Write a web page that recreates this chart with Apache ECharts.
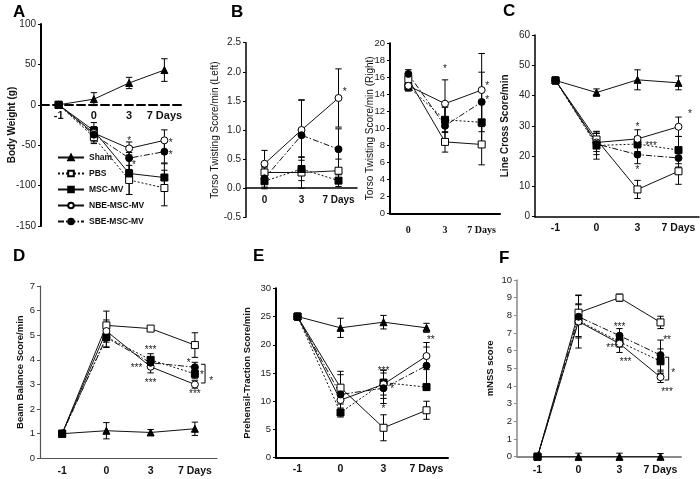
<!DOCTYPE html>
<html><head><meta charset="utf-8">
<script src="https://cdn.jsdelivr.net/npm/echarts@6/dist/echarts.min.js"></script>
<style>html,body{margin:0;padding:0;background:#fff}#c{width:700px;height:479px}</style>
</head><body><div id="c"></div>
<script>
// ---------- categories ----------
const CAT4 = ['-1', '0', '3', '7 Days'];
const CAT3 = ['0', '3', '7 Days'];
const GROUPS = ['Sham', 'PBS', 'MSC-MV', 'NBE-MSC-MV', 'SBE-MSC-MV'];

// ---------- Panel A: Body Weight (g) ----------
const A_sham = [0, 7, 27, 43];        const A_shamErr = [0, 8, 7, 14];
const A_pbs  = [0, -40, -93, -103];   const A_pbsErr  = [0, 8, 18, 22];
const A_msc  = [0, -32, -85, -90];    const A_mscErr  = [0, 10, 26, 17];
const A_nbe  = [0, -35, -54, -44];    const A_nbeErr  = [0, 8, 8, 13];
const A_sbe  = [0, -37, -66, -58];    const A_sbeErr  = [0, 9, 14, 14];
const A_stars = [[2, -42, '*'], [2.14, -72, '*'], [3.18, -45, '*'], [3.18, -59, '*']];

// ---------- Panel B left: Torso Twisting (Left) ----------
const BL_pbs = [0.27, 0.27, 0.30];  const BL_pbsErr = [0.10, 0.27, 0.20];
const BL_msc = [0.12, 0.33, 0.13];  const BL_mscErr = [0.10, 0.20, 0.10];
const BL_nbe = [0.42, 1.00, 1.55];  const BL_nbeErr = [0.23, 0.52, 0.50];
const BL_sbe = [0.17, 0.91, 0.67];  const BL_sbeErr = [0.18, 0.60, 0.35];
const BL_stars = [[2.17, 1.7, '*']];

// ---------- Panel B right: Torso Twisting (Right) ----------
const BR_pbs = [15.8, 8.4, 8.1];    const BR_pbsErr = [0.5, 1.2, 2.4];
const BR_msc = [14.9, 11.0, 10.7];  const BR_mscErr = [0.5, 1.5, 2.6];
const BR_nbe = [15.0, 12.9, 14.5];  const BR_nbeErr = [0.6, 2.8, 4.3];
const BR_sbe = [16.4, 10.3, 13.1];  const BR_sbeErr = [0.5, 2.2, 3.5];
const BR_stars = [[1, 17.2, '*'], [2.15, 15.2, '*'], [2.15, 13.6, '*']];

// ---------- Panel C: Line Cross ----------
const C_sham = [45, 41, 45.2, 44.2];  const C_shamErr = [0, 1.2, 3.3, 2.3];
const C_pbs  = [45, 25.5, 9, 15];     const C_pbsErr  = [0, 2.7, 3, 4.3];
const C_msc  = [45, 23.5, 24, 22];    const C_mscErr  = [0, 4.5, 2.5, 4.5];
const C_nbe  = [45, 24.5, 25.7, 29.7];const C_nbeErr  = [0, 3, 3, 3.2];
const C_sbe  = [45, 24, 20.5, 19.4];  const C_sbeErr  = [0, 3.5, 3, 3];
const C_stars = [[2, 30.3, '*'], [2.33, 24.2, '***'], [2, 16.2, '*'], [3.28, 34.6, '*']];

// ---------- Panel D: Beam Balance ----------
const D_sham = [1, 1.12, 1.05, 1.2];  const D_shamErr = [0, 0.33, 0.12, 0.27];
const D_pbs  = [1, 5.4, 5.27, 4.6];   const D_pbsErr  = [0, 0.58, 0.1, 0.5];
const D_msc  = [1, 4.93, 4.0, 3.43];  const D_mscErr  = [0, 0.4, 0.25, 0.2];
const D_nbe  = [1, 5.17, 3.72, 3.0];  const D_nbeErr  = [0, 0.45, 0.25, 0.15];
const D_sbe  = [1, 4.9, 3.88, 3.7];   const D_sbeErr  = [0, 0.4, 0.2, 0.2];
const D_stars = [[2, 4.5, '***'], [1.68, 3.78, '***'], [2, 3.17, '***'], [2.86, 3.98, '*'], [3.16, 3.46, '*'], [3.0, 2.7, '***'], [3.37, 3.25, '*']];
const D_brackets = [[3.23, 3.82, 3.06]];

// ---------- Panel E: Prehensil-Traction ----------
const E_sham = [25, 23, 24, 23];      const E_shamErr = [0, 1.7, 1.2, 0.8];
const E_pbs  = [25, 12.4, 5.3, 8.4];  const E_pbsErr  = [0, 2.9, 2.3, 1.6];
const E_msc  = [25, 8.0, 13.3, 12.5]; const E_mscErr  = [0, 0.8, 2.2, 0.5];
const E_nbe  = [25, 10.2, 13.0, 18.0];const E_nbeErr  = [0, 2.5, 2.5, 2.4];
const E_sbe  = [25, 11.2, 12.3, 16.3];const E_sbeErr  = [0, 3.5, 2.7, 3.3];
const E_stars = [[2, 15.8, '***'], [2.2, 12.5, '*'], [2, 9.0, '*'], [3.1, 21.3, '**']];

// ---------- Panel F: mNSS ----------
const F_sham = [0, 0, 0, 0];          const F_shamErr = [0, 0.2, 0.2, 0.18];
const F_pbs  = [0, 8.15, 9.0, 7.6];   const F_pbsErr  = [0, 0.5, 0.2, 0.35];
const F_msc  = [0, 7.7, 6.5, 5.4];    const F_mscErr  = [0, 0.9, 0.3, 0.7];
const F_nbe  = [0, 7.65, 6.4, 4.5];   const F_nbeErr  = [0, 1.5, 0.5, 0.3];
const F_sbe  = [0, 7.92, 6.85, 5.75]; const F_sbeErr  = [0, 1.2, 0.4, 0.85];
const F_stars = [[2, 7.45, '***'], [1.82, 6.3, '***'], [2.15, 5.5, '***'], [3.16, 6.73, '**'], [3.31, 4.87, '*'], [3.16, 3.8, '***']];
const F_brackets = [[3.2, 5.63, 4.34]];

// ---------- styles ----------
const FONT = '"Liberation Sans", Arial, sans-serif';
const SYM = {
  'Sham': {symbol: 'triangle', fill: '#000'},
  'PBS': {symbol: 'rect', fill: '#fff'},
  'MSC-MV': {symbol: 'rect', fill: '#000'},
  'NBE-MSC-MV': {symbol: 'circle', fill: '#fff'},
  'SBE-MSC-MV': {symbol: 'circle', fill: '#000'}
};
const LINE_A = {'Sham': 'solid', 'PBS': [2, 2], 'MSC-MV': 'solid', 'NBE-MSC-MV': 'solid', 'SBE-MSC-MV': [6, 2, 1.5, 2]};
const LINE_O = {'Sham': 'solid', 'PBS': 'solid', 'MSC-MV': [2, 2], 'NBE-MSC-MV': 'solid', 'SBE-MSC-MV': [6, 2, 1.5, 2]};

// ---------- layout ----------
const grids = [
  {left: 41, top: 24, width: 141, height: 202},
  {left: 246, top: 42.7, width: 111, height: 174.6},
  {left: 390, top: 43.3, width: 110, height: 170},
  {left: 535, top: 35, width: 164, height: 181.7},
  {left: 40, top: 286, width: 177, height: 172.3},
  {left: 276, top: 288.3, width: 172, height: 169.4},
  {left: 517, top: 280, width: 164, height: 176.7}
].map(g => Object.assign(g, {containLabel: false, outerBoundsMode: 'none'}));
const xSpec = [
  {cats: CAT4, color: '#000', w: 2, type: 'dashed', size: 11, margin: 6, offset: -121.2},
  {cats: CAT3, color: '#000', w: 1.5, type: 'solid', size: 10, margin: 7, offset: -29.1},
  {cats: CAT3, color: '#000', w: 2, type: 'solid', size: 10, margin: 12, serif: true},
  {cats: CAT4, color: '#000', w: 1.5, type: 'solid', size: 10.5, margin: 6},
  {cats: CAT4, color: '#555', w: 1.2, type: 'solid', size: 10.5, margin: 7},
  {cats: CAT4, color: '#000', w: 2, type: 'solid', size: 10.5, margin: 6},
  {cats: CAT4, color: '#8a8a8a', w: 2, type: 'solid', size: 10.5, margin: 8}
];
const ySpec = [
  {min: -150, max: 100, interval: 50, name: 'Body Weight (g)', bold: true, gap: 24, color: '#000', w: 2, size: 10},
  {min: -0.5, max: 2.5, interval: 0.5, name: 'Torso Twisting Score/min (Left)', bold: false, gap: 26, color: '#000', w: 1.5, size: 10, dec: 1},
  {min: 0, max: 20, interval: 2, name: 'Torso Twisting Score/min (Right)', bold: false, gap: 15, color: '#000', w: 2, size: 9.5},
  {min: 0, max: 60, interval: 10, name: 'Line Cross Score/min', bold: true, gap: 25, color: '#000', w: 1.5, size: 10},
  {min: 0, max: 7, interval: 1, name: 'Beam Balance Score/min', bold: true, gap: 15, color: '#555', w: 1.2, size: 9.5},
  {min: 0, max: 30, interval: 5, name: 'Prehensil-Traction Score/min', bold: true, gap: 24, color: '#000', w: 2, size: 9.5},
  {min: 0, max: 10, interval: 1, name: 'mNSS score', bold: true, gap: 22, color: '#8a8a8a', w: 1.5, size: 9.5}
];

const series = [];

// position helper for category axes with fractional offsets (in band widths)
function catCoord(api, xv, yv) {
  const i = Math.round(xv), f = xv - i;
  const p = api.coord([i, yv]);
  const bw = api.size([1, 0])[0];
  return [p[0] + f * bw, p[1]];
}
function errRender(params, api) {
  const x = api.value(0), lo = api.value(1), hi = api.value(2);
  const a = api.coord([x, hi]), b = api.coord([x, lo]);
  const w = 3.2, st = {stroke: '#000', lineWidth: 1};
  return {type: 'group', children: [
    {type: 'line', shape: {x1: a[0], y1: a[1], x2: b[0], y2: b[1]}, style: st},
    {type: 'line', shape: {x1: a[0] - w, y1: a[1], x2: a[0] + w, y2: a[1]}, style: st},
    {type: 'line', shape: {x1: b[0] - w, y1: b[1], x2: b[0] + w, y2: b[1]}, style: st}
  ]};
}

function addPanel(idx, groups, lineMap, stars, brackets) {
  const errData = [];
  groups.forEach(g => {
    const s = SYM[g.name];
    series.push({
      type: 'line', name: g.name, xAxisIndex: idx, yAxisIndex: idx,
      data: g.vals.slice(),
      symbol: s.symbol, symbolSize: 7, showSymbol: true,
      lineStyle: {color: '#111', width: 1, type: lineMap[g.name]},
      itemStyle: {color: s.fill, borderColor: '#000', borderWidth: 1},
      z: 3, silent: true
    });
    g.errs.forEach((e, i) => { if (e > 0) errData.push([i, g.vals[i] - e, g.vals[i] + e]); });
  });
  series.push({type: 'custom', xAxisIndex: idx, yAxisIndex: idx, renderItem: errRender,
    data: errData, z: 2, silent: true, encode: {x: 0, y: [1, 2]}});
  if (stars) {
    const texts = stars.map(s => s[2]);
    const fx = stars.map(s => s[0]);
    series.push({type: 'custom', xAxisIndex: idx, yAxisIndex: idx, silent: true, z: 4,
      data: stars.map(s => [Math.round(s[0]), s[1]]), encode: {x: 0, y: 1},
      renderItem: (params, api) => {
        const p = catCoord(api, fx[params.dataIndex], api.value(1));
        return {type: 'text', x: p[0], y: p[1] + 2.5,
          style: {text: texts[params.dataIndex], align: 'center', verticalAlign: 'middle',
            font: '10px ' + FONT, fill: '#222'}};
      }});
  }
  if (brackets) {
    const bx = brackets.map(b => b[0]);
    series.push({type: 'custom', xAxisIndex: idx, yAxisIndex: idx, z: 4, silent: true,
      data: brackets.map(b => [Math.round(b[0]), b[1], b[2]]), encode: {x: 0, y: [1, 2]},
      renderItem: (params, api) => {
        const a = catCoord(api, bx[params.dataIndex], api.value(1));
        const b = catCoord(api, bx[params.dataIndex], api.value(2));
        const st = {stroke: '#000', lineWidth: 1};
        return {type: 'group', children: [
          {type: 'line', shape: {x1: a[0], y1: a[1], x2: b[0], y2: b[1]}, style: st},
          {type: 'line', shape: {x1: a[0] - 4, y1: a[1], x2: a[0], y2: a[1]}, style: st},
          {type: 'line', shape: {x1: b[0] - 4, y1: b[1], x2: b[0], y2: b[1]}, style: st}
        ]};
      }});
  }
}

const G = (name, vals, errs) => ({name, vals, errs});
addPanel(0, [G('Sham', A_sham, A_shamErr), G('PBS', A_pbs, A_pbsErr), G('MSC-MV', A_msc, A_mscErr),
  G('NBE-MSC-MV', A_nbe, A_nbeErr), G('SBE-MSC-MV', A_sbe, A_sbeErr)], LINE_A, A_stars, null);
addPanel(1, [G('PBS', BL_pbs, BL_pbsErr), G('MSC-MV', BL_msc, BL_mscErr),
  G('NBE-MSC-MV', BL_nbe, BL_nbeErr), G('SBE-MSC-MV', BL_sbe, BL_sbeErr)], LINE_O, BL_stars, null);
addPanel(2, [G('PBS', BR_pbs, BR_pbsErr), G('MSC-MV', BR_msc, BR_mscErr),
  G('NBE-MSC-MV', BR_nbe, BR_nbeErr), G('SBE-MSC-MV', BR_sbe, BR_sbeErr)], LINE_O, BR_stars, null);
addPanel(3, [G('Sham', C_sham, C_shamErr), G('PBS', C_pbs, C_pbsErr), G('MSC-MV', C_msc, C_mscErr),
  G('NBE-MSC-MV', C_nbe, C_nbeErr), G('SBE-MSC-MV', C_sbe, C_sbeErr)], LINE_O, C_stars, null);
addPanel(4, [G('Sham', D_sham, D_shamErr), G('PBS', D_pbs, D_pbsErr), G('MSC-MV', D_msc, D_mscErr),
  G('NBE-MSC-MV', D_nbe, D_nbeErr), G('SBE-MSC-MV', D_sbe, D_sbeErr)], LINE_O, D_stars, D_brackets);
addPanel(5, [G('Sham', E_sham, E_shamErr), G('PBS', E_pbs, E_pbsErr), G('MSC-MV', E_msc, E_mscErr),
  G('NBE-MSC-MV', E_nbe, E_nbeErr), G('SBE-MSC-MV', E_sbe, E_sbeErr)], LINE_O, E_stars, null);
addPanel(6, [G('Sham', F_sham, F_shamErr), G('PBS', F_pbs, F_pbsErr), G('MSC-MV', F_msc, F_mscErr),
  G('NBE-MSC-MV', F_nbe, F_nbeErr), G('SBE-MSC-MV', F_sbe, F_sbeErr)], LINE_O, F_stars, F_brackets);

const xAxes = xSpec.map((s, i) => ({
  type: 'category', gridIndex: i, data: s.cats, boundaryGap: true, position: 'bottom', offset: s.offset || 0,
  axisLine: {show: true, onZero: false, lineStyle: {color: s.color, width: s.w, type: s.type}},
  axisTick: {show: false}, splitLine: {show: false},
  axisLabel: {interval: 0, fontWeight: 'bold', fontSize: s.size, color: '#111', margin: s.margin,
    fontFamily: s.serif ? '"Liberation Serif", "DejaVu Serif", serif' : FONT}
}));
const yAxes = ySpec.map((s, i) => ({
  type: 'value', gridIndex: i, min: s.min, max: s.max, interval: s.interval, position: 'left',
  name: s.name, nameLocation: 'middle', nameGap: s.gap, nameMoveOverlap: false,
  nameTextStyle: {fontWeight: s.bold ? 'bold' : 'normal', fontSize: i >= 4 ? 9.5 : 10, fontFamily: FONT, color: '#111'},
  axisLine: {show: true, onZero: false, lineStyle: {color: s.color, width: s.w}},
  axisTick: {show: true, length: 3, lineStyle: {color: s.color, width: 1}},
  splitLine: {show: false},
  axisLabel: {fontSize: s.size, fontFamily: FONT, color: '#222', margin: 5,
    formatter: v => s.dec ? v.toFixed(s.dec) : String(v)}
}));

const letters = [['A', 13, 4], ['B', 231, 4], ['C', 503, 3], ['D', 13, 248], ['E', 253, 248], ['F', 499, 250]];

const chart = echarts.init(document.getElementById('c'), null, {renderer: 'canvas'});
chart.setOption({
  backgroundColor: '#fff',
  animation: false,
  grid: grids,
  xAxis: xAxes,
  yAxis: yAxes,
  legend: {
    data: GROUPS, orient: 'vertical', left: 52, top: 148, itemWidth: 26, itemHeight: 7, itemGap: 7,
    textStyle: {fontSize: 8.5, fontWeight: 'bold', fontFamily: FONT, color: '#111'}, selectedMode: false
  },
  graphic: letters.map(l => ({type: 'text', left: l[1], top: l[2],
    style: {text: l[0], font: 'bold 17px ' + FONT, fill: '#000'}})),
  series: series
});
</script></body></html>
